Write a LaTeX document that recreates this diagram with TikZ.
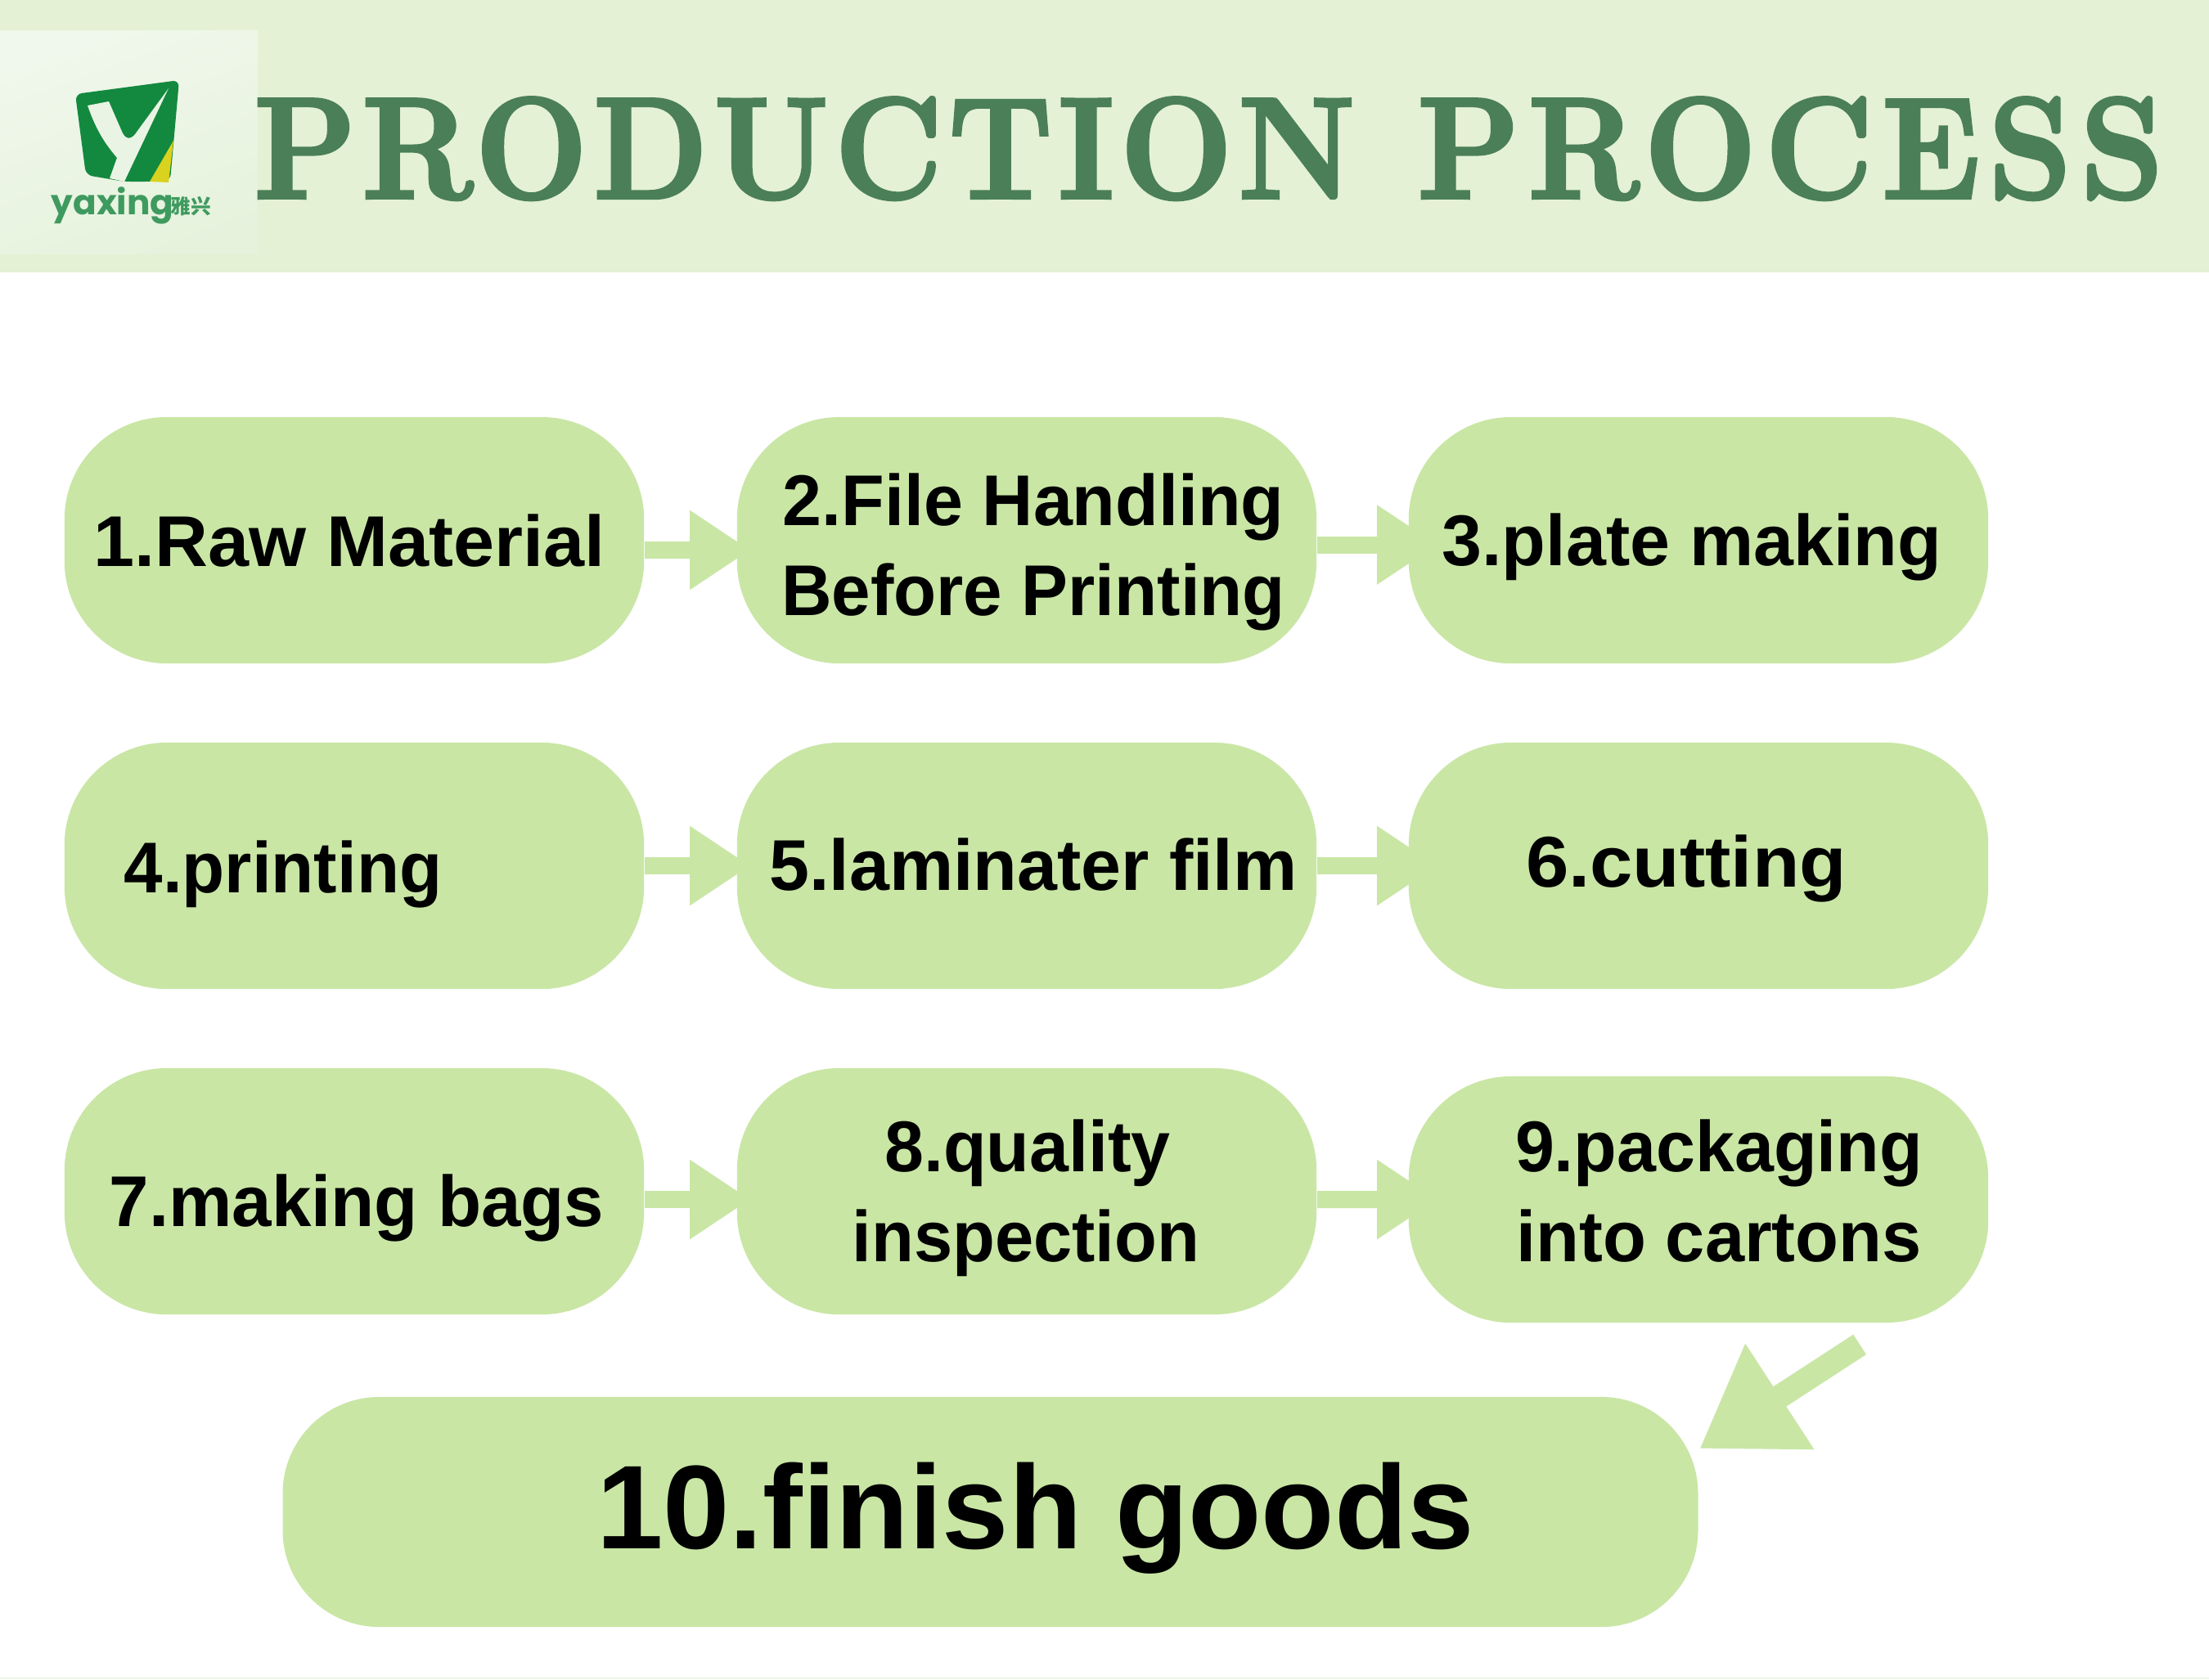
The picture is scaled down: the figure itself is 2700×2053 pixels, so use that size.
\documentclass[tikz,border=0pt]{standalone}
\usepackage{graphicx}
\usepackage{fontspec}
\setsansfont{Liberation Sans}
\newfontfamily\logofont{Poppins}
\newfontfamily\logocjk{Noto Sans CJK SC}
\newfontfamily\titlefonta[FakeBold=2.5,FakeStretch=.92,LetterSpace=4.4]{Latin Modern Roman}
\newfontfamily\titlefontb[FakeBold=2.5,FakeStretch=.92,LetterSpace=6.3]{Latin Modern Roman}
\usetikzlibrary{arrows.meta}
\definecolor{band}{HTML}{E4F1D4}
\definecolor{boxgreen}{HTML}{C9E6A5}
\definecolor{titlegreen}{HTML}{4B7F57}
\definecolor{logogreen}{HTML}{12893F}
\definecolor{logotext}{HTML}{3F9A5F}
\definecolor{logopale}{HTML}{EAF4E4}
\definecolor{logoyellow}{HTML}{D9D21E}
% text placed at an offset from the centre of its box (width factor, x offset, baseline offset, text)
\newcommand\lbl[4]{\makebox[0pt]{\hspace*{\dimexpr #2*2\relax}\raisebox{#3}[0pt][0pt]{\makebox[0pt]{\scalebox{#1}[1]{#4}}}}}
\tikzset{
  stepbox/.style={fill=boxgreen,rounded corners=1.25cm,minimum width=7.08cm,minimum height=3.01cm,inner sep=0pt,
    font=\sffamily\bfseries\fontsize{25}{30}\selectfont,text=black},
  bigbox/.style={fill=boxgreen,rounded corners=1.18cm,minimum width=17.29cm,minimum height=2.81cm,inner sep=0pt,
    font=\sffamily\bfseries\fontsize{41.4}{50}\selectfont,text=black},
  flow/.style={draw=boxgreen,line width=.21cm,-{Triangle[length=.74cm,width=.92cm,fill=boxgreen]}},
  flowa/.style={flow,shorten >=-.17cm},
  flowb/.style={flow,shorten >=-.36cm},
  finalflow/.style={draw=boxgreen,line width=.29cm,-{Triangle[length=1.17cm,width=1.46cm,fill=boxgreen]}},
}
\begin{document}
\begin{tikzpicture}[x=.01cm,y=-.01cm]
\useasboundingbox (0,0) rectangle (2700,2053);
\fill[white] (0,0) rectangle (2700,2053);
\fill[band] (0,0) rectangle (2700,333);
\fill[band!60!white] (0,2051) rectangle (2700,2053);
% logo
\shade[top color=logopale!70!white,bottom color=logopale!88!boxgreen,shading angle=20] (0,37) rectangle (315,310);
\fill[logogreen,rounded corners=.08cm] (92,115) -- (219,98) -- (208,221) -- (183,222) -- (152,222) -- (105,214) -- cycle;
\fill[logoyellow] (212,172) -- (206,223) -- (183,222) -- cycle;
\fill[logopale] (107,129) -- (133,124) -- (150,163) .. controls (155,172) and (162,170) .. (168,160) -- (206,108) -- (152,222) -- (134,218) -- (143,193) .. controls (128,175) and (118,160) .. cycle;
\node[anchor=base west,inner sep=0pt,text=logotext,font=\logofont\bfseries\fontsize{12}{16}\selectfont] (logoname) at (62,262) {yaxing};
\node[anchor=base west,inner sep=0pt,text=logotext,font=\logocjk\bfseries\fontsize{7}{8}\selectfont] (logocn) at (208,261) {雅兴};
% title
\node[anchor=base west,inner sep=0pt,text=titlegreen] (title) at (310,242)
  {\fontsize{50}{60}\selectfont\bfseries{\titlefonta\bfseries PRODUCTION} \hspace{3pt}{\titlefontb\bfseries PROCESS}};
% boxes
\node[stepbox] (b1) at (433,660.5) {\lbl{1.023}{-.06cm}{-.315cm}{1.Raw Material}};
\node[stepbox] (b2) at (1255,660.5) {\lbl{.98}{.08cm}{.185cm}{2.File Handling}\lbl{.97}{.08cm}{-.915cm}{Before Printing}};
\node[stepbox] (b3) at (2076,660.5) {\lbl{1}{-.08cm}{-.31cm}{3.plate making}};
\node[stepbox] (b4) at (433,1058.5) {\lbl{.97}{-.87cm}{-.33cm}{4.printing}};
\node[stepbox] (b5) at (1255,1058.5) {\lbl{1}{.08cm}{-.295cm}{5.laminater film}};
\node[stepbox] (b6) at (2076,1058.5) {\lbl{1.07}{-.15cm}{-.26cm}{6.cutting}};
\node[stepbox] (b7) at (433,1456.5) {\lbl{.99}{.03cm}{-.43cm}{7.making bags}};
\node[stepbox] (b8) at (1255,1456.5) {\lbl{.98}{.01cm}{.245cm}{8.quality}\lbl{.965}{-.01cm}{-.855cm}{inspection}};
\node[stepbox] (b9) at (2076,1466.5) {\lbl{.98}{.25cm}{.345cm}{9.packaging}\lbl{.985}{.25cm}{-.755cm}{into cartons}};
\node[bigbox] (b10) at (1210.5,1848.5) {\lbl{1.005}{.55cm}{-.45cm}{10.finish goods}};
% connectors
\draw[flowa] ([yshift=-.12cm]b1.east) -- ([yshift=-.12cm]b2.west);
\draw[flowb] ([yshift=-.055cm]b2.east) -- ([yshift=-.055cm]b3.west);
\draw[flowa] (b4.east) -- (b5.west);
\draw[flowb] (b5.east) -- (b6.west);
\draw[flowa] ([yshift=-.10cm]b7.east) -- ([yshift=-.10cm]b8.west);
\draw[flowb] ([yshift=-.10cm]b8.east) -- (b9.west);
\draw[finalflow] ([xshift=1.97cm,yshift=-.26cm]b9.south) -- ([xshift=.01cm,yshift=-.64cm]b10.north east);
\end{tikzpicture}
\end{document}
